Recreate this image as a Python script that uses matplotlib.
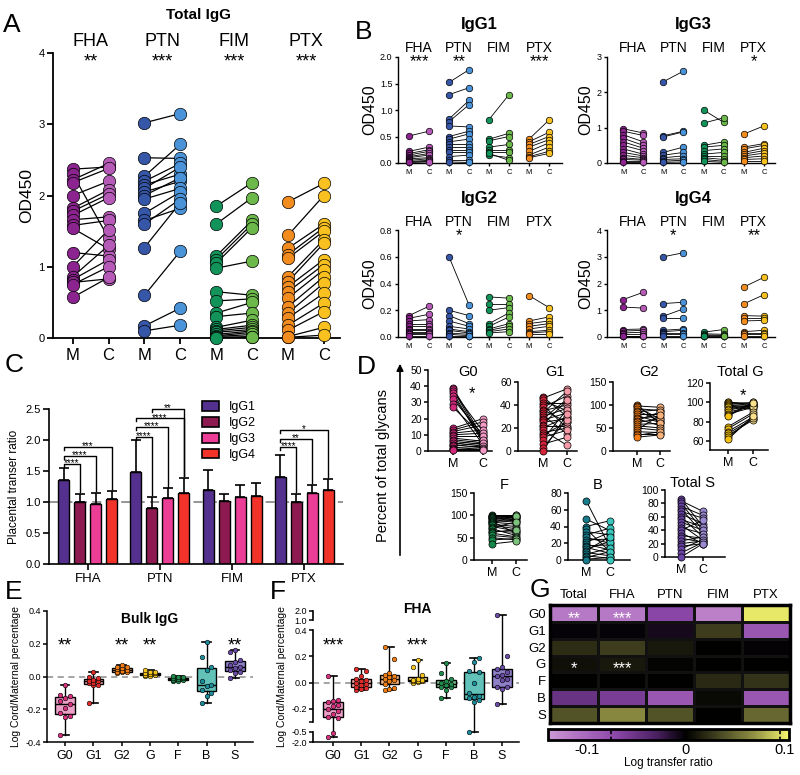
import numpy as np
import matplotlib
matplotlib.use("Agg")
import matplotlib.pyplot as plt
from matplotlib.cm import ScalarMappable
from matplotlib.colors import LinearSegmentedColormap, Normalize
from matplotlib.patches import Patch
from matplotlib.transforms import blended_transform_factory as blend

plt.rcParams["font.family"] = ["Liberation Sans", "DejaVu Sans"]

# ------------------------------------------------------------------ data
antigens = ["FHA", "PTN", "FIM", "PTX"]
mat_cols = ["#8c248f", "#3656a8", "#12935a", "#f28c1f"]
cord_cols = ["#b65ab8", "#4b93d8", "#6cb84b", "#f9c120"]

# A: total IgG OD450, maternal (M) / cord (C) pairs
tot_fha_m = [2.37, 2.30, 2.22, 2.18, 2.00, 1.82, 1.78, 1.72, 1.66, 1.58, 1.54, 1.20, 1.00, 0.86, 0.82, 0.78, 0.75, 0.57]
tot_fha_c = [2.40, 1.40, 2.45, 2.38, 2.20, 2.08, 2.02, 1.97, 1.70, 1.65, 1.25, 1.15, 1.52, 1.30, 1.10, 0.83, 1.00, 0.85]
tot_ptn_m = [3.02, 2.53, 2.27, 2.20, 2.15, 2.10, 2.05, 2.00, 1.95, 1.75, 1.65, 1.60, 1.27, 0.60, 0.17, 0.10]
tot_ptn_c = [3.15, 2.52, 2.72, 2.45, 2.30, 2.40, 2.20, 2.25, 2.10, 2.05, 1.82, 1.95, 1.90, 1.22, 0.42, 0.18]
tot_fim_m = [1.85, 1.60, 1.15, 1.10, 1.05, 0.98, 0.65, 0.52, 0.35, 0.30, 0.15, 0.12, 0.10, 0.08, 0.05, 0.03, 0.02, 0.01, 0.00]
tot_fim_c = [2.18, 1.97, 1.65, 1.60, 1.55, 1.08, 0.60, 0.55, 0.50, 0.35, 0.25, 0.18, 0.15, 0.12, 0.10, 0.08, 0.05, 0.02, 0.01]
tot_ptx_m = [1.91, 1.44, 1.26, 1.17, 1.12, 0.86, 0.79, 0.72, 0.65, 0.56, 0.44, 0.35, 0.28, 0.18, 0.11, 0.02, 0.01]
tot_ptx_c = [2.17, 2.00, 1.60, 1.55, 1.50, 1.38, 1.33, 1.10, 1.03, 0.96, 0.86, 0.77, 0.63, 0.49, 0.37, 0.15, 0.04]
tot_stars = ["**", "***", "***", "***"]

# B: IgG subclasses OD450
igg1_fha_m = [0.51, 0.22, 0.18, 0.15, 0.12, 0.10, 0.08, 0.05, 0.03, 0.02, 0.01]
igg1_fha_c = [0.60, 0.30, 0.25, 0.22, 0.18, 0.15, 0.10, 0.08, 0.05, 0.03, 0.02]
igg1_ptn_m = [1.52, 1.29, 0.83, 0.78, 0.70, 0.50, 0.45, 0.40, 0.35, 0.30, 0.25, 0.20, 0.12, 0.05, 0.02]
igg1_ptn_c = [1.76, 1.42, 1.18, 1.10, 0.68, 0.60, 0.55, 0.45, 0.35, 0.30, 0.25, 0.20, 0.15, 0.05, 0.01]
igg1_fim_m = [0.82, 0.45, 0.42, 0.30, 0.25, 0.20, 0.15, 0.18]
igg1_fim_c = [1.29, 0.56, 0.50, 0.35, 0.25, 0.20, 0.10, 0.05]
igg1_ptx_m = [0.45, 0.40, 0.35, 0.30, 0.22, 0.15, 0.12, 0.10]
igg1_ptx_c = [0.81, 0.58, 0.50, 0.44, 0.38, 0.30, 0.22, 0.18]

igg3_fha_m = [0.97, 0.90, 0.80, 0.70, 0.60, 0.50, 0.40, 0.30, 0.22, 0.15, 0.10, 0.05, 0.02]
igg3_fha_c = [0.85, 0.78, 0.60, 0.50, 0.42, 0.35, 0.25, 0.20, 0.15, 0.10, 0.08, 0.05, 0.02]
igg3_ptn_m = [2.30, 0.77, 0.74, 0.30, 0.22, 0.15, 0.10, 0.05, 0.02]
igg3_ptn_c = [2.60, 0.90, 0.88, 0.45, 0.30, 0.20, 0.12, 0.08, 0.03]
igg3_fim_m = [1.50, 1.13, 0.50, 0.45, 0.35, 0.25, 0.20, 0.15, 0.10, 0.05]
igg3_fim_c = [1.15, 1.28, 0.60, 0.50, 0.40, 0.30, 0.20, 0.10, 0.05, 0.02]
igg3_ptx_m = [0.82, 0.45, 0.40, 0.30, 0.25, 0.20, 0.15, 0.10, 0.05]
igg3_ptx_c = [1.05, 0.55, 0.50, 0.42, 0.35, 0.28, 0.20, 0.12, 0.05]

igg2_fha_m = [0.16, 0.14, 0.12, 0.10, 0.08, 0.06, 0.05, 0.04, 0.03, 0.02, 0.01]
igg2_fha_c = [0.23, 0.17, 0.13, 0.10, 0.08, 0.06, 0.05, 0.04, 0.03, 0.02, 0.01]
igg2_ptn_m = [0.60, 0.20, 0.16, 0.12, 0.08, 0.06, 0.05, 0.03, 0.02, 0.01]
igg2_ptn_c = [0.24, 0.16, 0.10, 0.08, 0.06, 0.04, 0.03, 0.02, 0.01, 0.01]
igg2_fim_m = [0.30, 0.25, 0.20, 0.10, 0.08, 0.06, 0.05, 0.04, 0.03]
igg2_fim_c = [0.29, 0.25, 0.22, 0.18, 0.15, 0.10, 0.08, 0.06, 0.04]
igg2_ptx_m = [0.31, 0.12, 0.10, 0.08, 0.06, 0.04, 0.03, 0.02]
igg2_ptx_c = [0.22, 0.15, 0.12, 0.10, 0.08, 0.05, 0.04, 0.02]

igg4_fha_m = [1.40, 1.12, 0.28, 0.22, 0.15, 0.10, 0.05, 0.02]
igg4_fha_c = [1.67, 1.08, 0.30, 0.25, 0.18, 0.10, 0.05, 0.02]
igg4_ptn_m = [3.00, 1.25, 0.78, 0.70, 0.25, 0.20, 0.15, 0.10, 0.05]
igg4_ptn_c = [3.15, 1.30, 1.05, 0.70, 0.30, 0.25, 0.15, 0.10, 0.05]
igg4_fim_m = [0.18, 0.12, 0.08, 0.05, 0.02]
igg4_fim_c = [0.28, 0.10, 0.06, 0.04, 0.02]
igg4_ptx_m = [1.87, 1.24, 0.80, 0.72, 0.60, 0.20, 0.15, 0.10, 0.05]
igg4_ptx_c = [2.23, 1.58, 0.78, 0.72, 0.62, 0.25, 0.15, 0.10, 0.05]

# C: placental transfer ratio (mean, upper error) per antigen
subclasses = ["IgG1", "IgG2", "IgG3", "IgG4"]
sub_cols = ["#55318f", "#8d1b52", "#ec3d97", "#f2332a"]
tr_igg1 = [1.35, 1.48, 1.19, 1.41]
tr_igg2 = [1.00, 0.91, 1.02, 1.00]
tr_igg3 = [0.97, 1.06, 1.08, 1.15]
tr_igg4 = [1.05, 1.14, 1.10, 1.19]
err_igg1 = [0.20, 0.52, 0.33, 0.35]
err_igg2 = [0.13, 0.17, 0.11, 0.13]
err_igg3 = [0.17, 0.16, 0.19, 0.13]
err_igg4 = [0.13, 0.25, 0.21, 0.18]
# (antigen, from subclass, to subclass, bracket height, label)
c_sig = [(0, 0, 1, 1.62, "****"), (0, 0, 2, 1.75, "****"), (0, 0, 3, 1.89, "***"),
         (1, 0, 1, 2.05, "****"), (1, 0, 2, 2.21, "****"), (1, 0, 3, 2.35, "****"),
         (1, 1, 3, 2.50, "**"),
         (3, 0, 1, 1.89, "****"), (3, 0, 2, 2.02, "**"), (3, 0, 3, 2.16, "*")]

# D: percent of total glycans
g0_m = [39, 38, 37, 36, 34, 32, 29, 27, 14, 13, 12, 11, 10, 9, 8, 7, 6, 5, 4, 4, 3, 2, 1, 1, 0.5]
g0_c = [8, 6, 12, 5, 7, 10, 4, 9, 20, 18, 16, 13, 11, 9, 6, 5, 4, 3, 7, 2, 5, 3, 2, 1, 0.5]
g1_m = [47, 46, 44, 42, 40, 38, 36, 35, 33, 31, 30, 28, 27, 25, 23, 22, 20, 18, 16, 14, 12, 10, 6, 3, 0]
g1_c = [30, 54, 35, 42, 20, 48, 25, 40, 52, 15, 37, 45, 33, 28, 44, 22, 30, 5, 20, 25, 18, 36, 12, 27, 32]
g2_m = [100, 98, 95, 92, 88, 85, 80, 77, 72, 70, 66, 62, 58, 55, 50, 46, 42, 38, 34, 30]
g2_c = [60, 95, 70, 88, 65, 90, 80, 62, 75, 55, 85, 70, 60, 50, 45, 78, 40, 38, 42, 35]
tg_m = [100, 100, 99, 98, 97, 96, 95, 93, 92, 90, 88, 87, 86, 75, 73, 70, 68, 66, 64, 62]
tg_c = [99, 98, 97, 100, 96, 95, 93, 98, 97, 96, 95, 100, 99, 90, 88, 85, 83, 82, 84, 86]
fuc_m = [100, 99, 98, 97, 96, 95, 93, 91, 90, 88, 86, 85, 83, 80, 78, 75, 72, 70, 65, 62, 60, 55, 50, 45, 36]
fuc_c = [100, 98, 97, 100, 95, 93, 90, 96, 88, 85, 60, 80, 99, 75, 70, 65, 85, 55, 62, 68, 52, 50, 45, 48, 42]
bis_m = [71, 49, 40, 37, 34, 30, 27, 24, 21, 19, 17, 15, 13, 11, 9, 7, 5, 3, 1, 0]
bis_c = [15, 35, 47, 10, 30, 38, 20, 25, 33, 12, 18, 8, 22, 28, 5, 14, 2, 10, 3, 0]
sia_m = [87, 84, 80, 76, 72, 68, 64, 60, 56, 52, 48, 44, 40, 36, 32, 28, 24, 20, 16, 12, 6, 0]
sia_c = [45, 68, 40, 62, 35, 58, 50, 30, 45, 40, 25, 35, 55, 20, 28, 22, 30, 24, 20, 26, 22, 20]

# E / F: log cord/maternal percentage
glycans = ["G0", "G1", "G2", "G", "F", "B", "S"]
box_fill = ["#eba0c8", "#f2a3a3", "#f7b47e", "#f9df8c", "#7fc290", "#62c2ba", "#8e81c8"]
pt_cols = ["#d7307c", "#e02b2b", "#f07d12", "#f6c51c", "#1f8a4c", "#1b8c99", "#6a4ba6"]
bulk_g0 = [-0.05, -0.11, -0.12, -0.13, -0.15, -0.17, -0.19, -0.22, -0.24, -0.25, -0.36]
bulk_g1 = [0.03, 0.00, -0.01, -0.02, -0.03, -0.03, -0.04, -0.04, -0.05, -0.05, -0.16]
bulk_g2 = [0.07, 0.06, 0.055, 0.05, 0.045, 0.04, 0.035, 0.03, 0.03, 0.025, 0.02]
bulk_g = [0.04, 0.03, 0.025, 0.02, 0.02, 0.015, 0.01, 0.01, 0.005, 0.005]
bulk_f = [0.005, 0.0, -0.005, -0.01, -0.01, -0.015, -0.02, -0.02, -0.025, -0.03]
bulk_b = [0.21, 0.12, 0.06, 0.04, -0.03, -0.05, -0.06, -0.08, -0.10, -0.12, -0.16]
bulk_s = [0.16, 0.15, 0.10, 0.09, 0.07, 0.06, 0.05, 0.04, 0.03, 0.02, -0.01]
bulk_stars = ["**", "", "**", "**", "", "", "**"]

fha_g0 = [0.05, -0.13, -0.14, -0.15, -0.17, -0.18, -0.20, -0.22, -0.24, -0.26, -0.27, -0.6, -1.3]
fha_g1 = [0.10, 0.09, 0.05, 0.03, 0.02, 0.01, 0.0, -0.01, -0.02, -0.03, -0.04, -0.05, -0.06]
fha_g2 = [0.27, 0.18, 0.07, 0.06, 0.05, 0.04, 0.03, 0.02, 0.01, -0.01, -0.04, -0.05, -0.06]
fha_g = [0.17, 0.12, 0.06, 0.03, 0.02, 0.02, 0.015, 0.01, 0.01, 0.005, 0.0]
fha_f = [0.15, 0.07, 0.03, 0.01, 0.0, -0.01, -0.02, -0.03, -0.03, -0.06, -0.12]
fha_b = [0.19, 0.16, 0.09, 0.08, 0.0, -0.08, -0.10, -0.11, -0.12, -0.13, -0.15, -0.55]
fha_s = [1.55, 0.20, 0.12, 0.10, 0.08, 0.06, 0.05, 0.03, 0.02, -0.035, -0.03, -0.05, -0.16]
fha_stars = ["***", "", "", "***", "", "", ""]

# G: log transfer ratio heat map
heat_cols = ["Total", "FHA", "PTN", "FIM", "PTX"]
ratio_total = [-0.115, -0.003, 0.022, 0.008, 0.0, -0.05, 0.04]
ratio_fha = [-0.115, -0.003, 0.030, 0.012, 0.0, -0.06, 0.065]
ratio_ptn = [-0.07, -0.008, 0.012, 0.002, 0.0, -0.085, 0.04]
ratio_fim = [-0.12, 0.030, 0.0, 0.0, 0.020, 0.005, 0.0]
ratio_ptx = [0.10, -0.085, -0.002, 0.0, 0.025, -0.085, 0.05]
heat_stars = [(0, 0, "**"), (0, 1, "***"), (3, 0, "*"), (3, 1, "***")]

# ------------------------------------------------------------------ layout helpers
W, H = 800.0, 775.0
fig = plt.figure(figsize=(8, 7.75), dpi=100)


def add_ax(l, t, r, b):
    return fig.add_axes([l / W, 1 - b / H, (r - l) / W, (b - t) / H])


ov = add_ax(0, 0, W, H)
ov.set_xlim(0, W)
ov.set_ylim(H, 0)
ov.axis("off")


def label_at(ax, x, ytop, s, **kw):
    # x in data units of ax, y = pixel row of the text top
    kw.setdefault("ha", "center")
    ax.text(x, ytop, s, transform=blend(ax.transData, ov.transData), va="top", **kw)


def style(ax, lw=1.0, tl=3, pad=2, size=7):
    ax.spines[["top", "right"]].set_visible(False)
    ax.spines[["left", "bottom"]].set_linewidth(lw)
    ax.tick_params(width=lw, length=tl, pad=pad, labelsize=size, color="k")


def paired(ax, groups, mcols, ccols, size, lw):
    for i, (m, c) in enumerate(groups):
        for a, b in zip(m, c):
            ax.plot([2 * i, 2 * i + 1], [a, b], color="k", lw=lw, zorder=2)
        ax.scatter([2 * i] * len(m), m, s=size, color=mcols[i], edgecolors="k",
                   linewidths=0.5, zorder=3, clip_on=False)
        ax.scatter([2 * i + 1] * len(c), c, s=size, color=ccols[i], edgecolors="k",
                   linewidths=0.5, zorder=3, clip_on=False)


# ------------------------------------------------------------------ A
axA = add_ax(53, 53, 340, 338)
paired(axA, [(tot_fha_m, tot_fha_c), (tot_ptn_m, tot_ptn_c),
             (tot_fim_m, tot_fim_c), (tot_ptx_m, tot_ptx_c)],
       mat_cols, cord_cols, 80, 0.9)
axA.set_ylim(0, 4)
axA.set_xlim(-0.55, 7.45)
axA.set_yticks(range(5))
axA.set_xticks(range(8))
axA.set_xticklabels(["M", "C"] * 4)
style(axA, lw=1.3, tl=4, pad=2, size=8)
axA.tick_params(axis="x", labelsize=12, pad=3)
axA.set_ylabel("OD450", fontsize=12.5, labelpad=3)
label_at(axA, 3.5, 8, "Total IgG", fontsize=11, fontweight="bold")
for i, ag in enumerate(antigens):
    label_at(axA, 2 * i + 0.5, 33, ag, fontsize=13)
    label_at(axA, 2 * i + 0.5, 53, tot_stars[i], fontsize=13)

# ------------------------------------------------------------------ B
b_specs = [
    ("IgG1", [(igg1_fha_m, igg1_fha_c), (igg1_ptn_m, igg1_ptn_c), (igg1_fim_m, igg1_fim_c), (igg1_ptx_m, igg1_ptx_c)],
     (398, 57, 562, 163), 2.0, [0, 0.5, 1.0, 1.5, 2.0], "{:.1f}", ["***", "**", "", "***"], (-0.55, 7.65), 0),
    ("IgG3", [(igg3_fha_m, igg3_fha_c), (igg3_ptn_m, igg3_ptn_c), (igg3_fim_m, igg3_fim_c), (igg3_ptx_m, igg3_ptx_c)],
     (607, 57, 775, 163), 3, [0, 1, 2, 3], "{:.0f}", ["", "", "", "*"], (-0.8, 7.55), 0),
    ("IgG2", [(igg2_fha_m, igg2_fha_c), (igg2_ptn_m, igg2_ptn_c), (igg2_fim_m, igg2_fim_c), (igg2_ptx_m, igg2_ptx_c)],
     (398, 230, 562, 337), 0.8, [0, 0.2, 0.4, 0.6, 0.8], "{:.1f}", ["", "*", "", ""], (-0.55, 7.65), 174),
    ("IgG4", [(igg4_fha_m, igg4_fha_c), (igg4_ptn_m, igg4_ptn_c), (igg4_fim_m, igg4_fim_c), (igg4_ptx_m, igg4_ptx_c)],
     (607, 230, 775, 337), 4, [0, 1, 2, 3, 4], "{:.0f}", ["", "*", "", "**"], (-0.8, 7.55), 174),
]
for name, groups, box, ymax, yt, fmt, stars, xl, dy in b_specs:
    ax = add_ax(*box)
    paired(ax, groups, mat_cols, cord_cols, 22, 0.6)
    ax.set_ylim(0, ymax)
    ax.set_xlim(*xl)
    ax.set_yticks(yt)
    ax.set_yticklabels([fmt.format(v) for v in yt])
    ax.set_xticks(range(8))
    ax.set_xticklabels(["M", "C"] * 4)
    style(ax, lw=1.0, tl=2.5, pad=1.5, size=6.5)
    ax.tick_params(axis="x", labelsize=5.5, pad=1.5)
    ax.set_ylabel("OD450", fontsize=11.5, labelpad=2)
    label_at(ax, 3.5, 17 + dy, name, fontsize=12, fontweight="bold")
    for i, ag in enumerate(antigens):
        label_at(ax, 2 * i + 0.5, 41 + dy, ag, fontsize=10)
        label_at(ax, 2 * i + 0.5, 54 + dy, stars[i], fontsize=12)

# ------------------------------------------------------------------ C
axC = add_ax(49, 409, 343, 564)
xg = np.arange(4)
offs = [-0.333, -0.111, 0.111, 0.333]
means = [tr_igg1, tr_igg2, tr_igg3, tr_igg4]
errs = [err_igg1, err_igg2, err_igg3, err_igg4]
for k in range(4):
    axC.bar(xg + offs[k], means[k], width=0.153, color=sub_cols[k], edgecolor="k",
            lw=1.0, zorder=2, label=subclasses[k])
    axC.errorbar(xg + offs[k], means[k], yerr=[np.zeros(4), errs[k]], fmt="none",
                 ecolor="k", elinewidth=1.2, capsize=3.6, capthick=1.2, zorder=3)
axC.axhline(1.0, color="#8c8c8c", ls=(0, (5, 3)), lw=1.3, zorder=1)
for g, i, j, yb, txt in c_sig:
    x1, x2 = g + offs[i], g + offs[j]
    top = means[j][g] + errs[j][g] + 0.03
    axC.plot([x1, x1, x2, x2], [yb - 0.05, yb, yb, top], color="k", lw=1.0,
             zorder=4, clip_on=False)
    axC.text((x1 + x2) / 2, yb - 0.04, txt, ha="center", va="baseline", fontsize=7)
axC.set_ylim(0, 2.5)
axC.set_xlim(-0.54, 3.54)
axC.set_yticks(np.arange(0, 2.51, 0.5))
axC.set_yticklabels(["0.0", "0.5", "1.0", "1.5", "2.0", "2.5"])
axC.set_xticks(xg)
axC.set_xticklabels(antigens)
style(axC, lw=1.2, tl=4, pad=2, size=8)
axC.tick_params(axis="x", labelsize=9.5, pad=2.5)
axC.set_ylabel("Placental transer ratio", fontsize=8.5)
handles = [Patch(facecolor=c, edgecolor="k", lw=1.2) for c in sub_cols]
axC.legend(handles, subclasses, loc="upper left", bbox_to_anchor=(0.52, 1.05),
           frameon=False, fontsize=9, handlelength=1.35, handleheight=0.8,
           handletextpad=0.8, labelspacing=0.3, borderpad=0, borderaxespad=0)

# ------------------------------------------------------------------ D
d_specs = [
    ("G0", g0_m, g0_c, "#d12a7c", "#f49ac6", (428, 370, 492, 451), (0, 50), range(0, 51, 10), (-0.83, 1.3), 365),
    ("G1", g1_m, g1_c, "#d3243a", "#f59aa6", (518, 382, 577, 451), (0, 60), range(0, 61, 20), (-1.04, 1.42), 365),
    ("G2", g2_m, g2_c, "#f27b14", "#f8b27c", (613, 382, 670, 451), (0, 150), range(0, 151, 50), (-1.04, 1.43), 365),
    ("Total G", tg_m, tg_c, "#f7c20e", "#fbe08c", (710, 383, 768, 450), (51, 120), range(60, 121, 20), (-0.72, 1.6), 365),
    ("F", fuc_m, fuc_c, "#16874a", "#7ec37d", (474, 493, 527, 560), (0, 150), range(0, 151, 50), (-0.75, 1.46), 478),
    ("B", bis_m, bis_c, "#167b8a", "#38c6bd", (568, 493, 630, 560), (0, 80), range(0, 81, 20), (-0.75, 1.83), 478),
    ("Total S", sia_m, sia_c, "#6b45a6", "#9b8ad2", (665, 490, 725, 557), (0, 100), range(0, 101, 20), (-0.73, 2.0), 476),
]
d_axes = {}
for name, m, c, mc, cc, box, yl, yt, xl, ttop in d_specs:
    ax = add_ax(*box)
    paired(ax, [(m, c)], [mc], [cc], 26, 0.7)
    ax.set_ylim(*yl)
    ax.set_xlim(*xl)
    ax.set_yticks(list(yt))
    ax.set_xticks([0, 1])
    ax.set_xticklabels(["M", "C"])
    style(ax, lw=1.1, tl=3, pad=1.5, size=7.5)
    ax.tick_params(axis="x", labelsize=9, pad=2)
    label_at(ax, 0.5, ttop, name, fontsize=10.5)
    d_axes[name] = ax
label_at(d_axes["G0"], 0.65, 386, "*", fontsize=12)
label_at(d_axes["Total G"], 0.6, 388, "*", fontsize=12)
ov.annotate("", xy=(400, 361), xytext=(400, 558),
            arrowprops=dict(arrowstyle="-|>", color="k", lw=1.2, mutation_scale=10))
ov.text(383, 465, "Percent of total glycans", rotation=90, ha="center", va="center",
        fontsize=10.5)


# ------------------------------------------------------------------ E / F
def box_panel(ax, data, stars, ylim, star_top):
    pos = np.arange(len(data))
    bp = ax.boxplot(data, positions=pos, widths=0.7, whis=(0, 100), patch_artist=True,
                    showfliers=False, capwidths=0.3,
                    medianprops=dict(color="k", lw=1),
                    boxprops=dict(linewidth=1, edgecolor="k"),
                    whiskerprops=dict(lw=1), capprops=dict(lw=1.2))
    for patch, col in zip(bp["boxes"], box_fill):
        patch.set_facecolor(col)
    for i, vals in enumerate(data):
        vals = np.sort(vals)
        dx = ((np.arange(len(vals)) % 3) - 1) * 0.17
        ax.scatter(i + dx, vals, s=11, color=pt_cols[i], edgecolors="k",
                   linewidths=0.4, zorder=3, clip_on=False)
        if stars[i]:
            label_at(ax, i, star_top, stars[i], fontsize=13)
    ax.axhline(0, color="#8c8c8c", ls=(0, (4, 3)), lw=1.1, zorder=0)
    ax.set_ylim(*ylim)
    ax.set_xticks(pos)
    ax.set_xticklabels(glycans)
    style(ax, lw=1.1, tl=3, pad=1.5, size=6.5)
    ax.tick_params(axis="x", labelsize=9, pad=3)
    ax.set_ylabel("Log Cord/Maternal percentage", fontsize=7.5, labelpad=3)


axE = add_ax(47, 611, 253, 742)
box_panel(axE, [bulk_g0, bulk_g1, bulk_g2, bulk_g, bulk_f, bulk_b, bulk_s],
          bulk_stars, (-0.4, 0.4), 637)
axE.set_xlim(-0.64, 6.64)
axE.set_yticks([-0.4, -0.2, 0.0, 0.2, 0.4])
axE.set_yticklabels(["-0.4", "-0.2", "0.0", "0.2", "0.4"])
label_at(axE, 3, 612, "Bulk IgG", fontsize=10, fontweight="bold")

# broken y axis for panel F via a piecewise linear scale
brk_v = [-100, -2.0, -0.5, -0.3, 0.4, 1.0, 2.0, 100]
brk_u = [-712.6, -59.3, -49.3, -39.3, 52.4, 62.4, 71.4, 953.4]


def fwd(v):
    return np.interp(v, brk_v, brk_u)


def inv(u):
    return np.interp(u, brk_u, brk_v)


axF = add_ax(313, 611, 519, 742)
axF.set_yscale("function", functions=(fwd, inv))
box_panel(axF, [fha_g0, fha_g1, fha_g2, fha_g, fha_f, fha_b, fha_s],
          fha_stars, (-2.0, 2.0), 637)
axF.set_xlim(-0.71, 6.6)
axF.set_yticks([-2.0, -0.5, -0.2, 0.0, 0.2, 0.4, 1.0, 2.0])
axF.set_yticklabels(["-2.0", "-0.5", "-0.2", "0.0", "0.2", "0.4", "1.0", "2.0"])
axF.set_yticks([-0.3], minor=True)
axF.tick_params(axis="y", which="minor", length=3, width=1.1)
axF.spines["left"].set_visible(False)
seg_tr = blend(axF.transAxes, axF.transData)
for lo, hi in [(-2.0, -0.5), (-0.3, 0.4), (1.0, 2.0)]:
    axF.plot([0, 0], [lo, hi], transform=seg_tr, color="k", lw=1.2, clip_on=False)
label_at(axF, 3, 602, "FHA", fontsize=10, fontweight="bold")

# ------------------------------------------------------------------ G
heat = np.array([ratio_total, ratio_fha, ratio_ptn, ratio_fim, ratio_ptx]).T
cmap = LinearSegmentedColormap.from_list("lt", [
    (0.0, "#cb98d4"), (0.12, "#b273c2"), (0.28, "#8b47a9"), (0.45, "#4a2061"),
    (0.5714, "#000000"), (0.70, "#40401f"), (0.85, "#8c8c42"), (0.95, "#d2d262"),
    (1.0, "#f6f66c")])
norm = Normalize(vmin=-0.14, vmax=0.105)
axG = add_ax(550, 605, 790, 723)
axG.pcolormesh(heat, cmap=cmap, norm=norm, edgecolors="#111111", linewidth=0.8)
axG.set_xlim(0, 5)
axG.set_ylim(7, 0)
axG.xaxis.tick_top()
axG.set_xticks(np.arange(5) + 0.5)
axG.set_xticklabels(heat_cols)
axG.set_yticks(np.arange(7) + 0.5)
axG.set_yticklabels(glycans)
axG.tick_params(length=0, labelsize=9.5, pad=3)
for s in axG.spines.values():
    s.set_linewidth(2.5)
for r, c, txt in heat_stars:
    axG.text(c + 0.5, r + 1.05, txt, color="white", ha="center", va="baseline", fontsize=12)

cax = add_ax(548, 729, 789, 740)
cb = fig.colorbar(ScalarMappable(norm=norm, cmap=cmap), cax=cax, orientation="horizontal")
cb.set_ticks([-0.1, 0, 0.1])
cb.set_ticklabels(["-0.1", "0", "0.1"])
cb.outline.set_linewidth(2)
cax.tick_params(length=0, labelsize=10.5, pad=2)
cb.set_label("Log transfer ratio", fontsize=8.5, labelpad=0)
for v in [-0.076, 0.096]:
    cax.axvline(v, color="k", ls=(0, (2, 1.5)), lw=1.2)

# ------------------------------------------------------------------ panel letters
for letter, x, y in [("A", 3, 13), ("B", 355, 20), ("C", 5, 353), ("D", 357, 355),
                     ("E", 5, 580), ("F", 270, 580), ("G", 530, 578)]:
    ov.text(x, y, letter, fontsize=19, ha="left", va="top")

fig.savefig("out.png", dpi=100)
